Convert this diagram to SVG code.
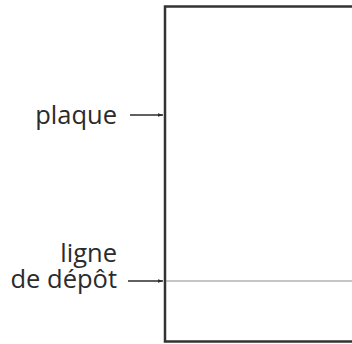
<svg xmlns="http://www.w3.org/2000/svg" width="352" height="344" viewBox="0 0 352 344">
<style>
.lbl{font-family:"Open Sans","DejaVu Sans",sans-serif;font-size:25.5px;fill:#2b2b2b;text-anchor:end}
.arr{stroke:#2b2b2b;stroke-width:1.4;fill:none;marker-end:url(#ah)}
</style>
<defs>
<marker id="ah" viewBox="0 0 10 10" refX="10" refY="5" markerWidth="6" markerHeight="5" markerUnits="userSpaceOnUse" orient="auto">
<path d="M0,1.5 L10,5 L0,8.5 Z" fill="#2b2b2b"/>
</marker>
</defs>
<rect width="352" height="344" fill="#ffffff"/>
<g id="plaque-shape">
<path d="M354,6.5 H165 V341.5 H354" fill="none" stroke="#333333" stroke-width="2.5"/>
</g>
<g id="ligne-depot-line">
<line x1="166" y1="281" x2="352" y2="281" stroke="#8a8a8a" stroke-width="1"/>
</g>
<g id="plaque">
<text class="lbl" x="117" y="124">plaque</text>
</g>
<g id="ligne-depot">
<text class="lbl"><tspan x="117" y="262">ligne</tspan><tspan x="117" y="288">de dépôt</tspan></text>
</g>
<g id="connectors">
<line class="arr" x1="130" y1="115" x2="163" y2="115"/>
<line class="arr" x1="128" y1="281" x2="163" y2="281"/>
</g>
</svg>
